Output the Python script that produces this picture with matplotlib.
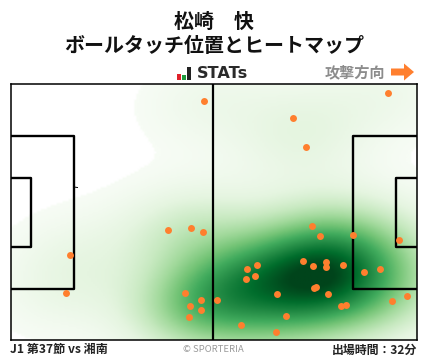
import numpy as np
import matplotlib
matplotlib.use('Agg')
import matplotlib.pyplot as plt
from matplotlib.patches import FancyArrow, Rectangle

plt.rcParams['font.family'] = ['Noto Sans CJK JP', 'DejaVu Sans']

title_lines = ['松崎　快', 'ボールタッチ位置とヒートマップ']
footer_left = 'J1 第37節 vs 湘南'
footer_right = '出場時間：32分'
credit = '© SPORTERIA'
direction = '攻撃方向'

# touch positions, pixels inside the pitch frame (406 x 256)
touch_x = [193.8, 377.8, 282.8, 295.8, 157.8, 180.8, 192.8, 59.8, 55.8, 174.8,
           190.8, 179.8, 190.8, 178.8, 301.8, 309.8, 342.8, 388.8, 292.8, 302.8,
           315.8, 315.8, 332.8, 353.8, 369.8, 246.8, 236.8, 244.8, 235.8, 305.8,
           303.8, 266.8, 317.8, 396.8, 381.8, 335.8, 330.8, 206.8, 275.8, 230.8,
           265.8]
touch_y = [17.3, 9.3, 34.3, 63.3, 146.3, 144.3, 148.3, 171.3, 209.3, 209.3,
           216.3, 222.3, 226.3, 233.3, 142.3, 152.3, 151.3, 156.3, 177.3, 182.3,
           178.3, 183.3, 181.3, 188.3, 185.3, 181.3, 185.3, 192.3, 195.3, 203.3,
           204.3, 210.3, 210.3, 212.3, 217.3, 221.3, 222.3, 216.3, 232.3, 241.3,
           248.3]

pitch_w, pitch_h = 406, 256

fig = plt.figure(figsize=(4.28, 3.59), dpi=100)
ax = fig.add_axes([10.5 / 428, 1 - 340 / 359, pitch_w / 428, pitch_h / 359])

# gaussian kde of the touches, bandwidth a bit wider than scott
pts = np.array([touch_x, touch_y], dtype=float)
cov = np.cov(pts) * len(touch_x) ** (-2 / 6) * 1.15
inv = np.linalg.inv(cov)
gx, gy = np.meshgrid(np.arange(0, pitch_w + 1, 2), np.arange(0, pitch_h + 1, 2))
dens = np.zeros(gx.shape)
for px, py in zip(touch_x, touch_y):
    dx, dy = gx - px, gy - py
    dens += np.exp(-0.5 * (inv[0, 0] * dx * dx + 2 * inv[0, 1] * dx * dy + inv[1, 1] * dy * dy))
dens = dens / dens.max()

cmap = plt.get_cmap('Greens').copy()
cmap.set_under('white')
ax.imshow(dens, extent=[0, pitch_w, pitch_h, 0], cmap=cmap, vmin=0.024, vmax=0.97,
          interpolation='bilinear', aspect='auto', zorder=1)

ax.set_xlim(0, pitch_w)
ax.set_ylim(pitch_h, 0)
ax.set_xticks([])
ax.set_yticks([])
for s in ax.spines.values():
    s.set_linewidth(1.1)
    s.set_color('black')
    s.set_zorder(6)

# pitch lines
lw = 1.7
ax.plot([202.5, 202.5], [0, pitch_h], color='black', lw=1.6, zorder=3)
ax.plot([0, 63, 63, 0], [52, 52, 205, 205], color='black', lw=lw, zorder=3)
ax.plot([0, 20.5, 20.5, 0], [94, 94, 163, 163], color='black', lw=lw, zorder=3)
ax.plot([406, 342.5, 342.5, 406], [52, 52, 205, 205], color='black', lw=lw, zorder=3)
ax.plot([406, 385, 385, 406], [94, 94, 163, 163], color='black', lw=lw, zorder=3)
ax.plot([63.5, 67], [103, 103.5], color='black', lw=0.7, zorder=3)

ax.scatter(touch_x, touch_y, s=25, color='#ff7f2e', linewidths=0, zorder=4, clip_on=True)

# header
fig.text(214 / 428, 1 - 21 / 359, title_lines[0], ha='center', va='center',
         fontsize=14.4, fontweight='bold', color='#111111')
fig.text(214 / 428, 1 - 46 / 359, title_lines[1], ha='center', va='center',
         fontsize=14.4, fontweight='bold', color='#111111')

# stats logo
for bx, bh, c in [(177, 6, '#e0202a'), (182, 5, '#1f9a3c'), (187, 13, '#222222')]:
    fig.add_artist(Rectangle((bx / 428, 1 - 80 / 359), 3.6 / 428, bh / 359,
                             transform=fig.transFigure, color=c, lw=0))
fig.text(197 / 428, 1 - 74 / 359, 'STATs', ha='left', va='center', fontsize=11.6,
         fontweight='bold', color='#2a2a2a', family='DejaVu Sans')

fig.text(385 / 428, 1 - 72 / 359, direction, ha='right', va='center', fontsize=10.9,
         fontweight='bold', color='#8c8c8c')
fig.add_artist(FancyArrow(391 / 428, 1 - 72 / 359, 23 / 428, 0, width=7 / 359,
                          head_width=17 / 359, head_length=10 / 428,
                          length_includes_head=True, transform=fig.transFigure,
                          color='#ff7f2e', lw=0))

# footer
fig.text(10.5 / 428, 1 - 350 / 359, footer_left, ha='left', va='center', fontsize=8.7,
         fontweight='bold', color='#222222')
fig.text(213 / 428, 1 - 349 / 359, credit, ha='center', va='center', fontsize=6.8,
         color='#999999')
fig.text(417 / 428, 1 - 350 / 359, footer_right, ha='right', va='center', fontsize=8.6,
         fontweight='bold', color='#222222')

fig.savefig('out.png', dpi=100)
